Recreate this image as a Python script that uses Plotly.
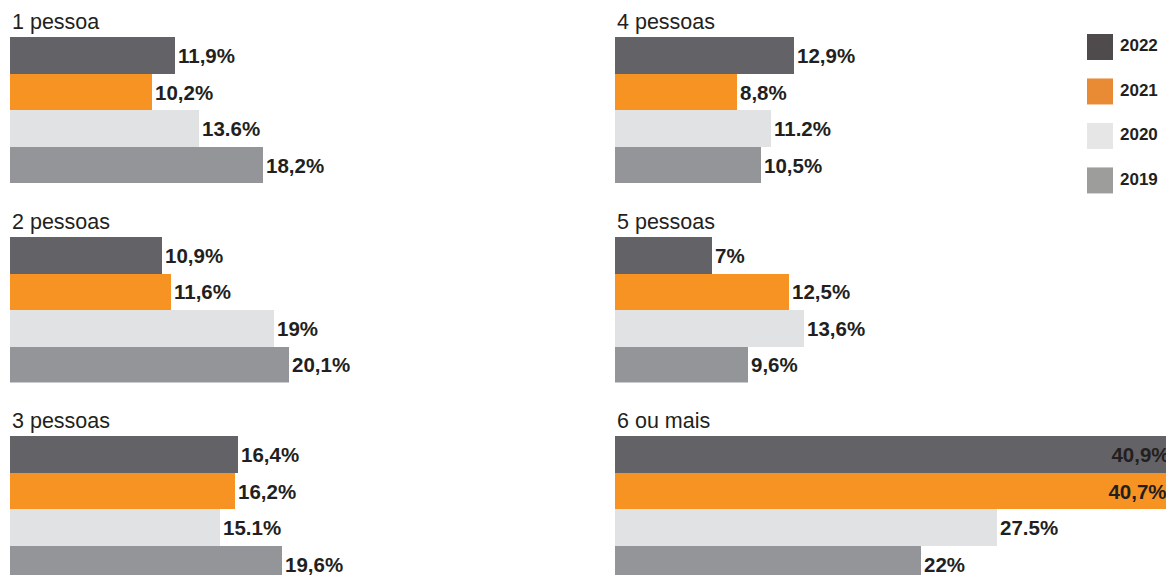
import plotly.graph_objects as go

W, H = 1166, 575

groups = ["1 pessoa", "2 pessoas", "3 pessoas", "4 pessoas", "5 pessoas", "6 ou mais"]
years = ["2022", "2021", "2020", "2019"]

vals_1 = [11.9, 10.2, 13.6, 18.2]
vals_2 = [10.9, 11.6, 19.0, 20.1]
vals_3 = [16.4, 16.2, 15.1, 19.6]
vals_4 = [12.9, 8.8, 11.2, 10.5]
vals_5 = [7.0, 12.5, 13.6, 9.6]
vals_6 = [40.9, 40.7, 27.5, 22.0]

# labels exactly as printed in the source (mixed decimal separators)
labels_1 = ["11,9%", "10,2%", "13.6%", "18,2%"]
labels_2 = ["10,9%", "11,6%", "19%", "20,1%"]
labels_3 = ["16,4%", "16,2%", "15.1%", "19,6%"]
labels_4 = ["12,9%", "8,8%", "11.2%", "10,5%"]
labels_5 = ["7%", "12,5%", "13,6%", "9,6%"]
labels_6 = ["40,9%", "40,7%", "27.5%", "22%"]

all_vals = [vals_1, vals_2, vals_3, vals_4, vals_5, vals_6]
all_labels = [labels_1, labels_2, labels_3, labels_4, labels_5, labels_6]

bar_colors = ["#636266", "#f69322", "#e1e2e4", "#939598"]
legend_colors = ["#4f4b4c", "#e98b35", "#e6e6e6", "#9d9d9c"]
text_color = "#231f20"
font_family = "Liberation Sans, Arial, sans-serif"

px_per_pct = 13.9
bar_h = 36.5
row_top = [37, 236.5, 436]
col_x = [(10, 600), (615, W)]

fig = go.Figure()
layout = {}

for k, (vals, labs) in enumerate(zip(all_vals, all_labels)):
    col = k // 3
    row = k % 3
    n = k + 1
    xa = "x" if n == 1 else "x%d" % n
    ya = "y" if n == 1 else "y%d" % n

    x0, x1 = col_x[col]
    top = row_top[row]
    bottom = min(top + 4 * bar_h, H)

    # bars running past the right edge get their label inside, like the source
    too_long = [v * px_per_pct > (x1 - x0) for v in vals]
    positions = ["inside" if t else "outside" for t in too_long]
    templates = ["%{text}\u00a0\u00a0" if t else "%{text}" for t in too_long]
    lab_font = dict(family=font_family, size=20.5, color=text_color, weight="bold")

    fig.add_trace(go.Bar(
        x=vals, y=list(range(4)), orientation="h", width=1,
        marker=dict(color=bar_colors, line=dict(width=0)),
        text=labs, texttemplate=templates, textposition=positions, insidetextanchor="end",
        textfont=lab_font, insidetextfont=lab_font, outsidetextfont=lab_font,
        constraintext="none", cliponaxis=True,
        xaxis=xa, yaxis=ya, hoverinfo="skip",
    ))

    key = "" if n == 1 else str(n)
    layout["xaxis" + key] = dict(
        domain=[x0 / W, x1 / W], range=[0, (x1 - x0) / px_per_pct],
        visible=False, anchor=ya, fixedrange=True,
    )
    layout["yaxis" + key] = dict(
        domain=[1 - bottom / H, 1 - top / H],
        range=[-0.5 + (bottom - top) / bar_h, -0.5],
        visible=False, anchor=xa, fixedrange=True,
    )

    fig.add_annotation(
        text=groups[k], xref="paper", yref="paper",
        x=x0 / W, y=1 - (top - 1) / H, xanchor="left", yanchor="bottom",
        showarrow=False, font=dict(family=font_family, size=21.5, color=text_color),
    )

# legend built as its own little panel: squares + year labels
fig.add_trace(go.Scatter(
    x=[0, 0, 0, 0], y=list(range(4)), mode="markers",
    marker=dict(symbol="square", size=26, color=legend_colors, line=dict(width=0)),
    xaxis="x7", yaxis="y7", hoverinfo="skip", cliponaxis=False,
))
fig.add_trace(go.Scatter(
    x=[1, 1, 1, 1], y=list(range(4)), mode="text",
    text=years, textposition="middle right",
    textfont=dict(family=font_family, size=17, color=text_color, weight="bold"),
    xaxis="x7", yaxis="y7", hoverinfo="skip", cliponaxis=False,
))
layout["xaxis7"] = dict(domain=[1080 / W, 1.0], range=[-1, 3.3], visible=False, anchor="y7")
layout["yaxis7"] = dict(domain=[1 - 200 / H, 1 - 25 / H], range=[3.44, -0.494], visible=False, anchor="x7")

fig.update_layout(
    width=W, height=H,
    margin=dict(l=0, r=0, t=0, b=0),
    paper_bgcolor="white", plot_bgcolor="white",
    showlegend=False, bargap=0,
    **layout,
)

fig.write_html(
    "out.html",
    config={"displayModeBar": False},
    post_script="document.body.style.margin='0';document.body.style.overflow='hidden';",
)
